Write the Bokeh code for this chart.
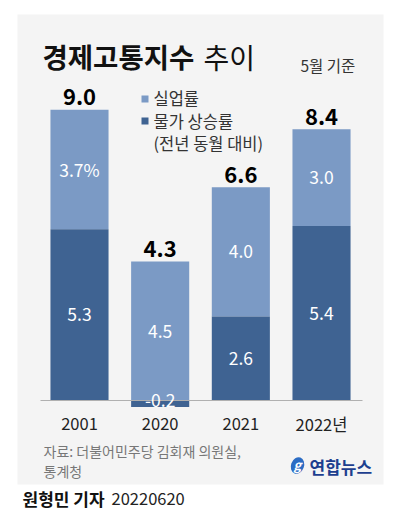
from bokeh.plotting import figure
from bokeh.models import ColumnDataSource, Label, BoxAnnotation, Range1d
from bokeh.core.properties import value
from bokeh.embed import file_html
from bokeh.resources import INLINE

years = ["2001", "2020", "2021", "2022년"]
unemployment = [3.7, 4.5, 4.0, 3.0]
inflation = [5.3, -0.2, 2.6, 5.4]
totals = [9.0, 4.3, 6.6, 8.4]
unemp_labels = ["3.7%", "4.5", "4.0", "3.0"]
infl_labels = ["5.3", "-0.2", "2.6", "5.4"]
total_labels = ["9.0", "4.3", "6.6", "8.4"]

LIGHT = "#7b9ac5"
DARK = "#3f6392"
BG = "#f4f4f4"
FONT = "Noto Sans CJK KR"

W, H = 397, 522
SX = 80.67   # px per category step
SY = 32.3    # px per unit
X0 = -79 / SX
Y_TOP = 400 / SY

p = figure(width=W, height=H, output_backend="svg", toolbar_location=None,
           min_border=0, x_range=Range1d(X0, X0 + W / SX),
           y_range=Range1d(Y_TOP - H / SY, Y_TOP))
p.axis.visible = False
p.grid.visible = False
p.outline_line_color = None
p.background_fill_color = "white"
p.border_fill_color = "white"

def sy(page_y):
    return H - page_y

def sx(page_x):
    return page_x

def box(l, r, t, b, color, level="annotation"):
    p.add_layout(BoxAnnotation(left=sx(l), right=sx(r), top=sy(t), bottom=sy(b),
                               left_units="screen", right_units="screen",
                               top_units="screen", bottom_units="screen",
                               fill_color=color, fill_alpha=1, line_color=None, level=level))

# panel background
box(17, 383, 14, 484, BG, "underlay")

xs = list(range(len(years)))
unemp_bottom = [max(v, 0) for v in inflation]
unemp_top = [i + u for i, u in zip(inflation, unemployment)]

src = ColumnDataSource(dict(x=xs, it=inflation, ub=unemp_bottom, ut=unemp_top))
p.vbar(x="x", bottom="ub", top="ut", width=0.72, source=src, fill_color=LIGHT, line_color=None)
p.vbar(x="x", bottom=0, top="it", width=0.72, source=src, fill_color=DARK, line_color=None)

# baseline
p.segment(x0=[X0 + 40 / SX], x1=[X0 + 362 / SX], y0=[0], y1=[0],
          line_color="#b0b0b0", line_width=1)

# value labels
ucy = [(b + t) / 2 for b, t in zip(unemp_bottom, unemp_top)]
icy = [t / 2 if t > 0 else 0 for t in inflation]
lab = ColumnDataSource(dict(x=xs, uy=ucy, iy=icy, ul=unemp_labels, il=infl_labels,
                            ty=[t + 0.4 for t in totals], tl=total_labels))
p.text(x="x", y="uy", text="ul", source=lab, text_color="white", text_font=value(FONT),
       text_font_size="17.5px", text_align="center", text_baseline="middle")
p.text(x="x", y="iy", text="il", source=lab, text_color="white", text_font=value(FONT),
       text_font_size="17.5px", text_align="center", text_baseline="middle")
p.text(x="x", y="ty", text="tl", source=lab, text_color="black", text_font=value(FONT),
       text_font_size="22px", text_font_style="bold", text_align="center", text_baseline="middle")
p.text(x=xs, y=[-0.72] * 4, text=years, text_color="#222222", text_font=value(FONT),
       text_font_size="16.5px", text_align="center", text_baseline="middle")

def lbl(text, x, y, size, color="#222222", style="normal", align="left", font=FONT):
    p.add_layout(Label(x=sx(x), y=sy(y), x_units="screen", y_units="screen", text=text,
                       text_font=font, text_font_size=size, text_color=color,
                       text_font_style=style, text_align=align, text_baseline="middle"))

lbl("경제고통지수", 42, 55, "27.5px", "#111111", "bold")
lbl("추이", 203, 56, "28px", "#111111")
lbl("5월 기준", 300, 64, "15.5px", "#333333")

# legend
box(141, 148, 95, 102, LIGHT)
box(141, 148, 117, 124, DARK)
lbl("실업률", 153, 97, "16.5px", "#333333")
lbl("물가 상승률", 153, 120, "16.5px", "#333333")
lbl("(전년 동월 대비)", 153, 142, "16.5px", "#333333")

# source
lbl("자료: 더불어민주당 김회재 의원실,", 43, 450, "14px", "#777777")
lbl("통계청", 43, 470, "14px", "#777777")

# logo
lx = X0 + 297 / SX
ly = Y_TOP - 465 / SY
p.ellipse(x=[lx], y=[ly], width=13 / SX, height=17 / SY, angle=-0.35,
          fill_color="#2b6cc4", line_color=None)
lbl("g", 297, 464, "13px", "white", "bold italic", "center")
lbl("연합뉴스", 309, 466, "17px", "#1d3f8f", "bold")

# byline
lbl("원형민 기자", 22, 498, "17px", "#111111", "bold")
lbl("20220620", 111, 498, "16.5px", "#222222")

open("out.html", "w").write(file_html(p, INLINE))
